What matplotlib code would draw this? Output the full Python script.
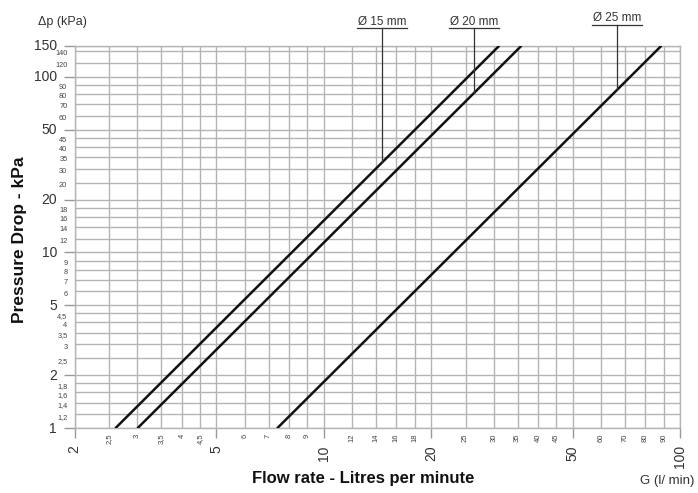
import matplotlib
matplotlib.use("Agg")
import matplotlib.pyplot as plt
import matplotlib.transforms as mtransforms
import numpy as np

plt.rcParams["font.family"] = ["Liberation Sans", "DejaVu Sans"]

# pipe lines: flow rate G (l/min) at the two ends, pressure drop (kPa)
g_15 = [2.6, 31.1]
g_20 = [3.0, 35.9]
g_25 = [7.4, 88.7]
dp_ends = [1, 150]

pipe_labels = ["Ø 15 mm", "Ø 20 mm", "Ø 25 mm"]
leader_g = [14.6, 26.4, 66.5]

x_major = [2, 5, 10, 20, 50, 100]
x_minor = [2.5, 3, 3.5, 4, 4.5, 6, 7, 8, 9, 12, 14, 16, 18, 25, 30, 35, 40, 45,
           60, 70, 80, 90]
x_minor_labels = ["2,5", "3", "3,5", "4", "4,5", "6", "7", "8", "9", "12", "14",
                  "16", "18", "25", "30", "35", "40", "45", "60", "70", "80", "90"]

y_major = [1, 2, 5, 10, 20, 50, 100, 150]
y_minor = [1.2, 1.4, 1.6, 1.8, 2.5, 3, 3.5, 4, 4.5, 6, 7, 8, 9, 12, 14, 16, 18,
           25, 30, 35, 40, 45, 60, 70, 80, 90, 120, 140]
y_minor_labels = ["1,2", "1,4", "1,6", "1,8", "2,5", "3", "3,5", "4", "4,5", "6",
                  "7", "8", "9", "12", "14", "16", "18", "20", "30", "35", "40",
                  "45", "60", "70", "80", "90", "120", "140"]

grid_col = "#b4b4b4"

fig = plt.figure(figsize=(6.98, 4.93), dpi=100)
ax = fig.add_axes([74.7 / 698, 1 - 428.3 / 493, (680 - 74.7) / 698, (428.3 - 45.7) / 493])
ax.set_xscale("log")
ax.set_yscale("log")
ax.set_xlim(2, 100)
ax.set_ylim(1, 150)

for v in x_major + x_minor:
    ax.axvline(v, color=grid_col, lw=1.0, zorder=1)
for v in y_major + y_minor:
    ax.axhline(v, color=grid_col, lw=1.0, zorder=1)

for sp in ax.spines.values():
    sp.set_color(grid_col)
    sp.set_linewidth(1.0)

ax.set_xticks(x_major)
ax.set_xticklabels([str(v) for v in x_major], rotation=90, fontsize=10, color="#333333",
                   va="top")
ax.set_xticks(x_minor, minor=True)
ax.set_xticklabels(x_minor_labels, minor=True, rotation=90, fontsize=5.5,
                   color="#444444", va="top")
ax.tick_params(axis="x", which="major", length=7.2, width=1.0, color="#999999", pad=5)
ax.tick_params(axis="x", which="minor", length=0, pad=4)

ax.set_yticks(y_major)
ax.set_yticklabels([str(v) for v in y_major], fontsize=10, color="#333333")
ax.set_yticks(y_minor, minor=True)
ax.set_yticklabels(y_minor_labels, minor=True, fontsize=5.3, color="#444444")
ax.tick_params(axis="y", which="major", length=8, width=1.0, color="#999999", pad=4.8)
ax.tick_params(axis="y", which="minor", length=0, pad=5.3)

# nudge labels apart near the top (major up a bit, minor down a bit)
up = mtransforms.ScaledTranslation(0, 1.2 / 100, fig.dpi_scale_trans)
down = mtransforms.ScaledTranslation(0, -1.8 / 100, fig.dpi_scale_trans)
for lbl in ax.get_yticklabels():
    lbl.set_transform(lbl.get_transform() + up)
for lbl in ax.get_yticklabels(minor=True):
    lbl.set_transform(lbl.get_transform() + down)

# pipe lines
series = [g_15, g_20, g_25]
for g in series:
    ax.plot(g, dp_ends, color="#111111", lw=1.8, zorder=3, solid_capstyle="butt")

# labels with underline and leader
label_y = [188, 188, 198]
for g, lab, lg, ly in zip(series, pipe_labels, leader_g, label_y):
    slope = np.log(dp_ends[1] / dp_ends[0]) / np.log(g[1] / g[0])
    dp_at = dp_ends[0] * (lg / g[0]) ** slope
    ax.plot([lg, lg], [ly, dp_at], color="#333333", lw=0.9, clip_on=False, zorder=4)
    ax.plot([lg / 1.175, lg * 1.175], [ly, ly], color="#333333", lw=0.9, clip_on=False)
    ax.text(lg, ly * 1.045, lab, ha="center", va="baseline", fontsize=8.5, color="#333333")

fig.text(62 / 698, 1 - 22 / 493, "Δp (kPa)", ha="center", va="center", fontsize=9,
         color="#333333")
fig.text(20 / 698, 1 - 240 / 493, "Pressure Drop - kPa", rotation=90, ha="center",
         va="center", fontsize=12.5, fontweight="bold", color="#111111")
fig.text(363 / 698, 1 - 478 / 493, "Flow rate - Litres per minute", ha="center",
         va="center", fontsize=12, fontweight="bold", color="#111111")
fig.text(667 / 698, 1 - 481 / 493, "G (l/ min)", ha="center", va="center", fontsize=9.5,
         color="#333333")

fig.savefig("out.png", dpi=100)
